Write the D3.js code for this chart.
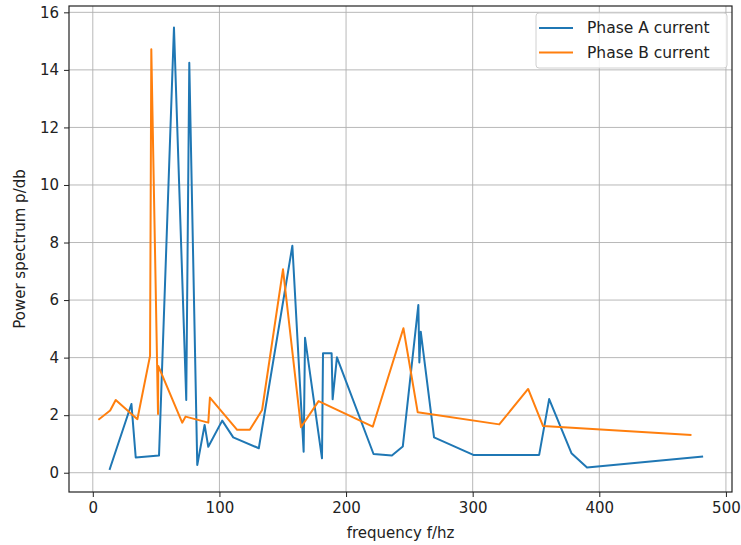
<!DOCTYPE html>
<html>
<head>
<meta charset="utf-8">
<script src="https://cdn.jsdelivr.net/npm/d3@7"></script>
<style>
  html, body { margin: 0; padding: 0; background: #fff; }
  svg { display: block; font-family: "DejaVu Sans", sans-serif; }
</style>
</head>
<body>
<svg id="chart" width="741" height="545"></svg>
<script>
// Phase A current spectrum
const freqA = [13.4, 30.5, 33.9, 52.3, 64.1, 73.8, 76.2, 82.5, 88.3, 91.2, 102.2, 110.9, 131.1,
  157.6, 166.5, 167.6, 181.0, 181.8, 188.6, 189.4, 192.8, 221.7, 236.2, 244.8, 257.1, 257.9, 259.0,
  269.5, 300.5, 352.5, 360.4, 378.0, 390.3, 481.2];
const powerA = [0.13, 2.39, 0.53, 0.60, 15.47, 2.53, 14.25, 0.27, 1.66, 0.90, 1.81, 1.23, 0.85,
  7.89, 0.73, 4.69, 0.50, 4.15, 4.15, 2.55, 4.01, 0.65, 0.60, 0.91, 5.83, 3.83, 4.90,
  1.23, 0.62, 0.62, 2.56, 0.68, 0.18, 0.56];

// Phase B current spectrum
const freqB = [5.0, 13.7, 18.1, 35.2, 45.2, 46.2, 51.5, 51.7, 70.6, 73.3, 91.2, 92.5, 114.0, 124.0,
  133.7, 150.2, 164.4, 178.3, 221.1, 245.3, 256.6, 321.0, 343.8, 355.6, 472.0];
const powerB = [1.86, 2.16, 2.53, 1.86, 4.06, 14.72, 2.04, 3.71, 1.74, 1.95, 1.74, 2.61, 1.49, 1.49,
  2.18, 7.07, 1.58, 2.49, 1.60, 5.02, 2.10, 1.68, 2.91, 1.62, 1.31];

const xTicks = [0, 100, 200, 300, 400, 500];
const yTicks = [0, 2, 4, 6, 8, 10, 12, 14, 16];
const seriesNames = ["Phase A current", "Phase B current"];
const seriesColors = ["#1f77b4", "#ff7f0e"];

const svg = d3.select("#chart");
const m = { left: 69, right: 732, top: 6, bottom: 492 };
const fs = 15;

const x = d3.scaleLinear().domain([-18.8, 504.8]).range([m.left, m.right]);
const y = d3.scaleLinear().domain([-0.67, 16.22]).range([m.bottom, m.top]);

// grid lines
const grid = svg.append("g").attr("stroke", "#b0b0b0").attr("stroke-width", 0.9);
grid.selectAll(".gx").data(xTicks).join("line")
  .attr("x1", d => x(d)).attr("x2", d => x(d))
  .attr("y1", m.top).attr("y2", m.bottom);
grid.selectAll(".gy").data(yTicks).join("line")
  .attr("x1", m.left).attr("x2", m.right)
  .attr("y1", d => y(d)).attr("y2", d => y(d));

// series lines
const plot = svg.append("g");
const line = d3.line().x(d => x(d[0])).y(d => y(d[1]));
const series = [
  d3.zip(freqA, powerA),
  d3.zip(freqB, powerB)
];
series.forEach((pts, i) => {
  plot.append("path").datum(pts)
    .attr("d", line)
    .attr("fill", "none")
    .attr("stroke", seriesColors[i])
    .attr("stroke-width", 2)
    .attr("stroke-linejoin", "round")
    .attr("stroke-linecap", "square");
});

// axes
const xAxis = d3.axisBottom(x).tickValues(xTicks).tickSize(5).tickPadding(5);
const yAxis = d3.axisLeft(y).tickValues(yTicks).tickSize(5).tickPadding(5);
const gx = svg.append("g").attr("transform", `translate(0,${m.bottom})`).call(xAxis);
const gy = svg.append("g").attr("transform", `translate(${m.left},0)`).call(yAxis);
[gx, gy].forEach(g => {
  g.select(".domain").remove();
  g.selectAll("text").attr("font-size", fs).attr("fill", "#222").attr("font-family", "DejaVu Sans");
  g.selectAll("line").attr("stroke", "#222");
});

// frame
svg.append("rect")
  .attr("x", m.left).attr("y", m.top)
  .attr("width", m.right - m.left).attr("height", m.bottom - m.top)
  .attr("fill", "none").attr("stroke", "#222").attr("stroke-width", 1.2);

// axis titles
svg.append("text")
  .attr("x", (m.left + m.right) / 2).attr("y", 538)
  .attr("text-anchor", "middle").attr("font-size", fs).attr("fill", "#222")
  .text("frequency f/hz");
svg.append("text")
  .attr("transform", `translate(25,${(m.top + m.bottom) / 2}) rotate(-90)`)
  .attr("text-anchor", "middle").attr("font-size", fs).attr("fill", "#222")
  .text("Power spectrum p/db");

// legend
const lg = svg.append("g").attr("transform", "translate(536,13)");
lg.append("rect")
  .attr("width", 191).attr("height", 55).attr("rx", 3)
  .attr("fill", "#fff").attr("fill-opacity", 0.85)
  .attr("stroke", "#d0d0d0");
seriesNames.forEach((name, i) => {
  const yy = 15 + i * 24.5;
  lg.append("line")
    .attr("x1", 3).attr("x2", 37).attr("y1", yy).attr("y2", yy)
    .attr("stroke", seriesColors[i]).attr("stroke-width", 2);
  lg.append("text")
    .attr("x", 51).attr("y", yy).attr("dy", "0.35em")
    .attr("font-size", 15.5).attr("fill", "#222")
    .text(name);
});
</script>
</body>
</html>
